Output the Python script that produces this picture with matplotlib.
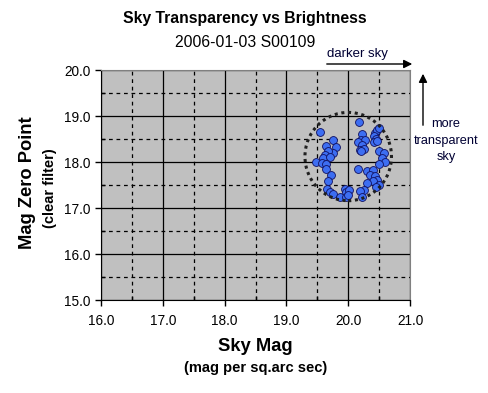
import numpy as np
import matplotlib
matplotlib.use("Agg")
import matplotlib.pyplot as plt
from matplotlib.patches import Ellipse, FancyArrowPatch

plt.rcParams['font.family'] = ['Liberation Sans', 'DejaVu Sans']

# sky brightness (mag per sq.arc sec) and zero point for each frame
sky_mag = [20.17, 19.54, 19.64, 19.76, 19.80, 19.75, 19.68, 19.62, 19.59, 19.71,
           19.48, 19.57, 19.64, 19.64, 19.72, 19.68, 19.65, 19.70, 19.75, 19.86,
           19.94, 19.97, 20.02, 19.96, 20.00, 20.16, 20.22, 20.20, 20.27, 20.16,
           20.23, 20.19, 20.25, 20.20, 20.43, 20.47, 20.49, 20.41, 20.45, 20.42,
           20.47, 20.50, 20.58, 20.54, 20.59, 20.50, 20.31, 20.40, 20.35, 20.43,
           20.47, 20.40, 20.31, 20.50, 20.25, 20.19, 20.22, 20.45]
zero_pt = [18.87, 18.66, 18.34, 18.47, 18.33, 18.20, 18.23, 18.16, 18.09, 18.12,
           18.01, 17.98, 17.96, 17.85, 17.72, 17.59, 17.41, 17.36, 17.31, 17.25,
           17.41, 17.36, 17.40, 17.25, 17.29, 17.85, 18.60, 18.49, 18.47, 18.43,
           18.38, 18.27, 18.28, 18.23, 18.63, 18.69, 18.74, 18.56, 18.50, 18.43,
           18.45, 18.25, 18.20, 18.09, 18.01, 17.96, 17.80, 17.82, 17.72, 17.69,
           17.60, 17.58, 17.54, 17.51, 17.40, 17.38, 17.24, 17.45]

x_ticks = [16.0, 17.0, 18.0, 19.0, 20.0, 21.0]
y_ticks = [15.0, 16.0, 17.0, 18.0, 19.0, 20.0]

fig = plt.figure(figsize=(4.89, 3.93), dpi=100)
ax = fig.add_axes([0.2065, 0.2366, 0.632, 0.585])
ax.set_facecolor('#c0c0c0')

ax.set_xlim(16, 21)
ax.set_ylim(15, 20)
ax.set_xticks(x_ticks)
ax.set_yticks(y_ticks)
ax.set_xticklabels(['%.1f' % v for v in x_ticks])
ax.set_yticklabels(['%.1f' % v for v in y_ticks])
ax.set_xticks(np.arange(16.5, 21, 1.0), minor=True)
ax.set_yticks(np.arange(15.5, 20, 1.0), minor=True)
ax.tick_params(which='major', direction='out', length=4, width=1, labelsize=9.8, color='black')
ax.tick_params(axis='x', which='major', pad=6)
ax.tick_params(which='minor', direction='in', length=3, width=1, color='black')

ax.grid(which='major', color='black', linewidth=0.9, linestyle='-')
ax.grid(which='minor', color='black', linewidth=0.9, linestyle=(0, (3, 3)))
ax.set_axisbelow(True)

for s in ['top', 'right']:
    ax.spines[s].set_color('#808080')
for s in ['left', 'bottom']:
    ax.spines[s].set_color('black')

ax.scatter(sky_mag, zero_pt, s=32, c='#3d6ef2', edgecolors='#101060',
           linewidths=0.6, zorder=3)

circ = Ellipse((20.0, 18.12), 1.4, 1.92, fill=False, edgecolor='#202020',
               linestyle=(0, (1, 1.2)), linewidth=2.2, zorder=4)
ax.add_patch(circ)

fig.text(0.501, 0.952, 'Sky Transparency vs Brightness', ha='center', va='center',
         fontsize=11.3, fontweight='bold')
fig.text(0.501, 0.893, '2006-01-03 S00109', ha='center', va='center', fontsize=11.3)

fig.text(0.523, 0.118, 'Sky Mag', ha='center', va='center', fontsize=13.2, fontweight='bold')
fig.text(0.523, 0.064, '(mag per sq.arc sec)', ha='center', va='center', fontsize=10.5,
         fontweight='bold')

fig.text(0.057, 0.534, 'Mag Zero Point', ha='center', va='center', rotation=90,
         fontsize=13.2, fontweight='bold')
fig.text(0.102, 0.521, '(clear filter)', ha='center', va='center', rotation=90,
         fontsize=10.5, fontweight='bold')

# direction hints
fig.text(0.731, 0.863, 'darker sky', ha='center', va='center', fontsize=9.5, color='#000033')
fig.add_artist(FancyArrowPatch(
    (324 / 489, 1 - 64 / 393), (415 / 489, 1 - 64 / 393), transform=fig.transFigure,
    arrowstyle='-|>,head_length=5,head_width=2.5', color='black', linewidth=1))
fig.add_artist(FancyArrowPatch(
    (423 / 489, 1 - 128 / 393), (423 / 489, 1 - 71 / 393), transform=fig.transFigure,
    arrowstyle='-|>,head_length=5,head_width=2.5', color='black', linewidth=1))
fig.text(446 / 489, 1 - 124 / 393, 'more', ha='center', va='center', fontsize=9.2, color='#000033')
fig.text(446 / 489, 1 - 141 / 393, 'transparent', ha='center', va='center', fontsize=9.2,
         color='#000033')
fig.text(446 / 489, 1 - 157 / 393, 'sky', ha='center', va='center', fontsize=9.2, color='#000033')

fig.savefig('out.png', dpi=100)
